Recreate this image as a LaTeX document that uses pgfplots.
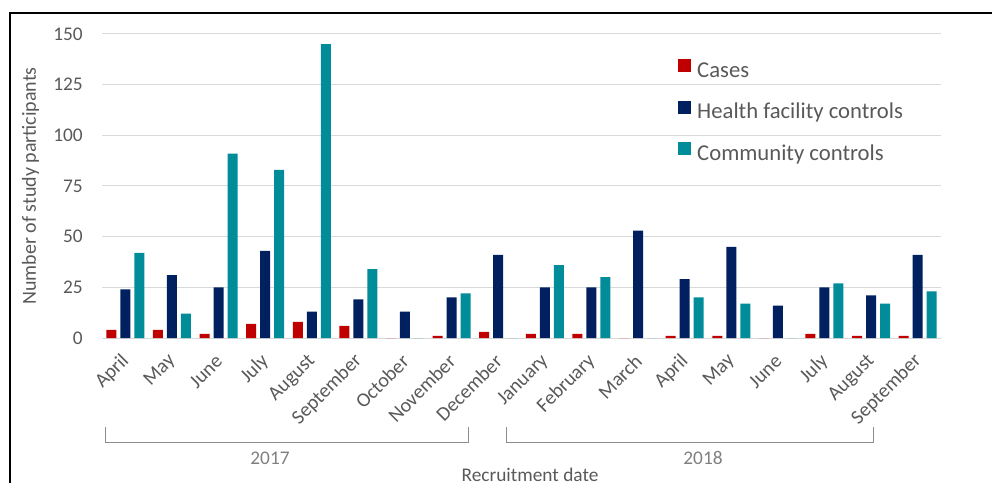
\documentclass[border=0pt]{standalone}
\usepackage{fontspec}
\setmainfont{Carlito}
\usepackage{pgfplots}
\usepackage{pgfplotstable}
\pgfplotsset{compat=1.18}
\definecolor{casered}{RGB}{192,0,0}
\definecolor{hfnavy}{RGB}{0,32,96}
\definecolor{ccteal}{RGB}{0,140,153}
\definecolor{gridgray}{RGB}{217,217,217}
\definecolor{txtgray}{RGB}{89,89,89}
\definecolor{yeargray}{RGB}{128,128,128}
\definecolor{brackgray}{RGB}{140,140,140}

\pgfplotstableread{
idx cases hf cc
0  4 24 42
1  4 31 12
2  2 25 91
3  7 43 83
4  8 13 145
5  6 19 34
6  0 13 0
7  1 20 22
8  3 41 0
9  2 25 36
10 2 25 30
11 0 53 0
12 1 29 20
13 1 45 17
14 0 16 0
15 2 25 27
16 1 21 17
17 1 41 23
}\datatable

\begin{document}
\begin{tikzpicture}
\useasboundingbox (0,0) rectangle (744pt,361.5pt);
\begin{axis}[
  at={(76.5pt,108pt)}, anchor=south west,
  scale only axis, width=629.25pt, height=228pt,
  xmin=-0.5, xmax=17.5, ymin=0, ymax=150,
  ytick={0,25,...,150},
  xtick={0,...,17},
  xticklabels={April,May,June,July,August,September,October,November,December,January,February,March,April,May,June,July,August,September},
  major tick length=0pt,
  axis line style={draw=none},
  ymajorgrids, grid style={gridgray, line width=0.75pt},
  /pgf/number format/assume math mode=true,
  yticklabel style={font=\fontsize{14.5pt}{17pt}\selectfont, text=txtgray, anchor=east, inner sep=0pt, xshift=-14.25pt},
  xticklabel style={font=\fontsize{15pt}{17pt}\selectfont, text=txtgray, inner sep=0pt, xshift=0.5pt, yshift=-15pt, rotate=45, anchor=east},
  ylabel={Number of study participants},
  ylabel style={font=\fontsize{15pt}{18pt}\selectfont, text=txtgray, anchor=base, at={(axis description cs:-0.0789,0.5)}},
  ybar, bar width=7.5pt,
  legend style={draw=none, fill=none, at={(rel axis cs:0.6865,0.9178)}, anchor=north west,
     font=\fontsize{17pt}{19pt}\selectfont, text=txtgray, row sep=14.1pt, inner sep=0pt,
     nodes={inner sep=0pt, text height=12pt, text depth=3.5pt}},
  legend cell align=left,
  legend image code/.code={\fill[#1] (0pt,-0.5pt) rectangle (9.75pt,9.25pt); \path (14.25pt,0pt);},
]
\addplot[fill=casered, draw=none, bar shift=-10.5pt] table[x=idx, y=cases] {\datatable};
\addplot[fill=hfnavy, draw=none, bar shift=0pt] table[x=idx, y=hf] {\datatable};
\addplot[fill=ccteal, draw=none, bar shift=10.5pt] table[x=idx, y=cc] {\datatable};
\legend{Cases, Health facility controls, Community controls}
\end{axis}
% frame
\draw[line width=1.5pt, black] (7.3pt,-5pt) -- (7.3pt,351.75pt) -- (760pt,351.75pt);
% year brackets
\draw[brackgray, line width=0.75pt] (78.75pt,41.25pt) -- (78.75pt,30pt) -- (351pt,30pt) -- (351pt,41.25pt);
\draw[brackgray, line width=0.75pt] (379.5pt,41.25pt) -- (379.5pt,30pt) -- (654.75pt,30pt) -- (654.75pt,41.25pt);
\node[font=\fontsize{14.5pt}{17pt}\selectfont, text=yeargray] at (202.5pt,18pt) {2017};
\node[font=\fontsize{14.5pt}{17pt}\selectfont, text=yeargray] at (527.25pt,18pt) {2018};
\node[font=\fontsize{14.5pt}{17pt}\selectfont, text=txtgray, anchor=base] at (397.5pt,0.4pt) {Recruitment date};
\end{tikzpicture}
\end{document}
